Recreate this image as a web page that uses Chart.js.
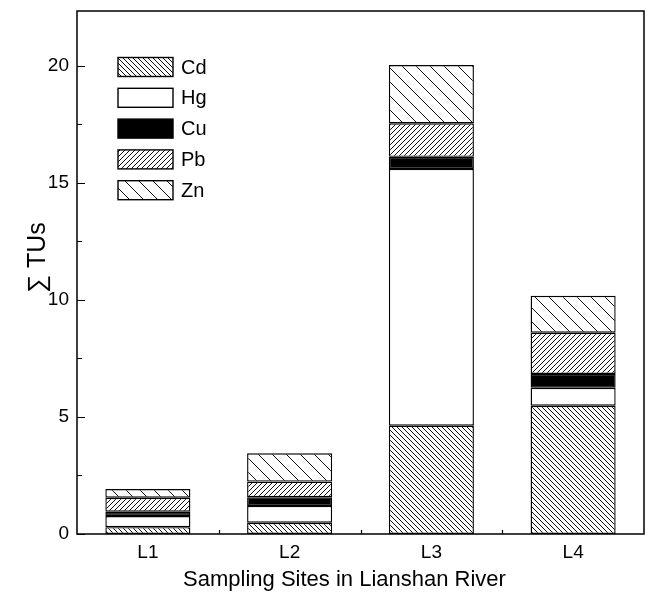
<!DOCTYPE html>
<html><head><meta charset="utf-8">
<script src="https://cdn.jsdelivr.net/npm/chart.js@4/dist/chart.umd.min.js"></script>
<style>html,body{margin:0;padding:0;background:#fff}#wrap{width:651px;height:592px;position:relative}</style>
</head><body><div id="wrap"><canvas id="c"></canvas></div>
<script>
const categories = ['L1', 'L2', 'L3', 'L4'];
const metals = ['Cd', 'Hg', 'Cu', 'Pb', 'Zn'];
const cdValues = [0.29, 0.48, 4.63, 5.48];
const hgValues = [0.48, 0.72, 10.97, 0.77];
const cuValues = [0.18, 0.37, 0.52, 0.59];
const pbValues = [0.60, 0.67, 1.43, 1.76];
const znValues = [0.37, 1.21, 2.49, 1.58];
const yTicks = [0, 5, 10, 15, 20];
const yMinorTicks = [2.5, 7.5, 12.5, 17.5];
const yMax = 22.35;
const xTitle = 'Sampling Sites in Lianshan River';
const yTitle = '\u2211 TUs';

const FONT = 'Arial, "Liberation Sans", sans-serif';

function hatch(spacing, dir) {
  const c = document.createElement('canvas');
  c.width = spacing; c.height = spacing;
  const g = c.getContext('2d');
  g.fillStyle = '#fff'; g.fillRect(0, 0, spacing, spacing);
  g.strokeStyle = '#111'; g.lineWidth = 1;
  g.beginPath();
  for (const o of [-spacing, 0, spacing]) {
    if (dir === 'back') { g.moveTo(o - 1, -1); g.lineTo(o + spacing + 1, spacing + 1); }
    else { g.moveTo(o - 1, spacing + 1); g.lineTo(o + spacing + 1, -1); }
  }
  g.stroke();
  return g.createPattern(c, 'repeat');
}

const fills = {
  Cd: hatch(5, 'back'),
  Hg: '#ffffff',
  Cu: '#000000',
  Pb: hatch(5, 'fwd'),
  Zn: hatch(14, 'back')
};
const seriesValues = { Cd: cdValues, Hg: hgValues, Cu: cuValues, Pb: pbValues, Zn: znValues };

const datasets = metals.map(m => ({
  label: m,
  data: seriesValues[m],
  backgroundColor: fills[m],
  borderColor: '#000',
  borderWidth: 1.4,
  borderSkipped: false,
  barPercentage: 0.6,
  categoryPercentage: 1,
  stack: 's'
}));

const framePlugin = {
  id: 'frame',
  afterDatasetsDraw(chart) {
    const { ctx, chartArea: a, scales: { x, y } } = chart;
    ctx.save();
    ctx.strokeStyle = '#000';
    ctx.lineWidth = 1.5;
    ctx.strokeRect(a.left, a.top, a.right - a.left, a.bottom - a.top);
    ctx.lineWidth = 1.2;
    ctx.beginPath();
    yTicks.forEach(v => { const p = Math.round(y.getPixelForValue(v)) + 0.5; ctx.moveTo(a.left, p); ctx.lineTo(a.left + 8, p); });
    yMinorTicks.forEach(v => { const p = Math.round(y.getPixelForValue(v)) + 0.5; ctx.moveTo(a.left, p); ctx.lineTo(a.left + 5, p); });
    for (let i = 0; i < categories.length - 1; i++) {
      const p = Math.round((x.getPixelForValue(i) + x.getPixelForValue(i + 1)) / 2) + 0.5;
      ctx.moveTo(p, a.bottom); ctx.lineTo(p, a.bottom - 4);
    }
    ctx.stroke();
    ctx.fillStyle = '#000';
    ctx.textAlign = 'center';
    ctx.textBaseline = 'middle';
    // x-axis title
    ctx.font = '22px ' + FONT;
    ctx.fillText(xTitle, (a.left + a.right) / 2 - 16, a.bottom + 46);
    // y-axis title
    ctx.save();
    ctx.translate(38, (a.top + a.bottom) / 2 - 15);
    ctx.rotate(-Math.PI / 2);
    ctx.font = '25px ' + FONT;
    ctx.fillText(yTitle, 0, 0);
    ctx.restore();
    ctx.restore();
  }
};

const legendPlugin = {
  id: 'innerLegend',
  afterDraw(chart) {
    const { ctx, chartArea: a } = chart;
    ctx.save();
    const bx = a.left + 41, bw = 55, bh = 19, step = 30.8;
    const cy0 = a.top + 56;
    chart.data.datasets.forEach((ds, i) => {
      const cy = cy0 + i * step;
      ctx.fillStyle = ds.backgroundColor;
      ctx.fillRect(bx, cy - bh / 2, bw, bh);
      ctx.strokeStyle = '#000'; ctx.lineWidth = 1.4;
      ctx.strokeRect(bx, cy - bh / 2, bw, bh);
      ctx.fillStyle = '#000';
      ctx.font = '20px ' + FONT;
      ctx.textBaseline = 'middle';
      ctx.textAlign = 'left';
      ctx.fillText(ds.label, bx + bw + 8, cy + 1);
    });
    ctx.restore();
  }
};

new Chart(document.getElementById('c'), {
  type: 'bar',
  data: { labels: categories, datasets },
  plugins: [framePlugin, legendPlugin],
  options: {
    responsive: true,
    maintainAspectRatio: false,
    animation: false,
    layout: { padding: { left: 0, top: 11, right: 7, bottom: 0 } },
    plugins: { legend: { display: false }, tooltip: { enabled: false } },
    scales: {
      x: {
        stacked: true,
        grid: { display: false, drawTicks: false },
        border: { display: false },
        ticks: { color: '#000', font: { family: FONT, size: 19 }, padding: 7 },
        title: { display: false },
        afterFit(s) { s.height = 58; s.paddingLeft = 0; s.paddingRight = 0; }
      },
      y: {
        stacked: true,
        min: 0,
        max: yMax,
        grid: { display: false, drawTicks: false },
        border: { display: false },
        ticks: { color: '#000', font: { family: FONT, size: 19 }, padding: 8 },
        afterBuildTicks(s) { s.ticks = yTicks.map(v => ({ value: v })); },
        title: { display: false },
        afterFit(s) { s.width = 77; s.paddingTop = 0; s.paddingBottom = 0; }
      }
    }
  }
});
</script>
</body></html>
